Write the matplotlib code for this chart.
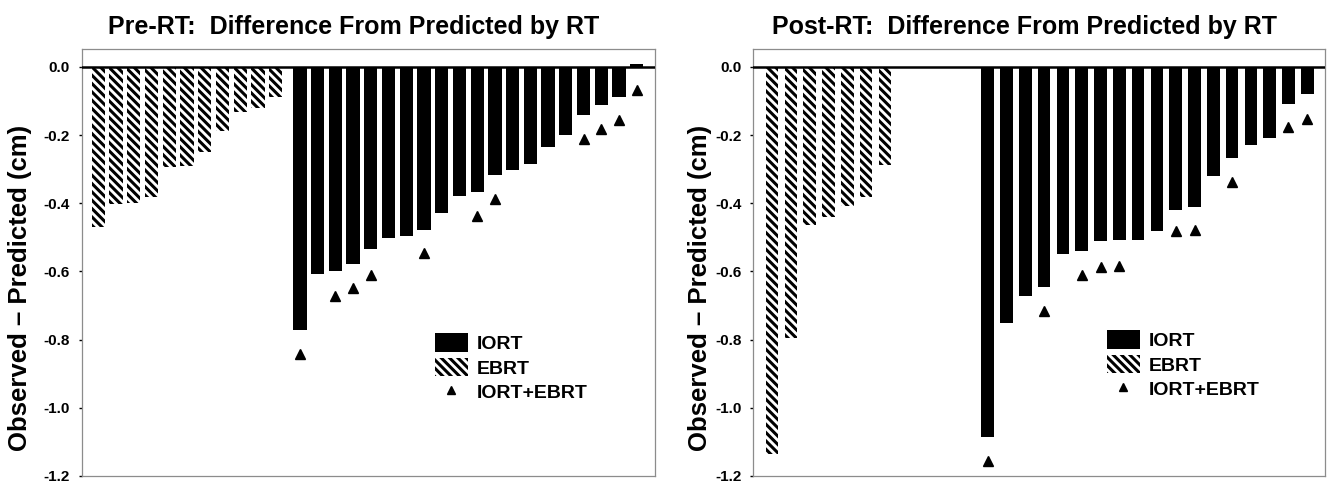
import numpy as np
import matplotlib
matplotlib.use('Agg')
import matplotlib.pyplot as plt
from matplotlib.patches import Patch
from matplotlib.lines import Line2D

nan = np.nan

# Pre-RT: observed - predicted (cm), sorted within each group
pre_ebrt = [-0.471, -0.401, -0.398, -0.382, -0.295, -0.290, -0.250, -0.187, -0.132, -0.120, -0.087]
pre_iort = [-0.773, -0.607, -0.600, -0.579, -0.535, -0.502, -0.495, -0.478, -0.430, -0.380,
            -0.368, -0.318, -0.303, -0.284, -0.234, -0.201, -0.142, -0.112, -0.087, 0.007]
pre_combo = [-0.842, nan, -0.673, -0.649, -0.610, nan, nan, -0.545, nan, nan,
             -0.437, -0.388, nan, nan, nan, nan, -0.211, -0.181, -0.156, -0.069]

# Post-RT
post_ebrt = [-1.136, -0.794, -0.464, -0.440, -0.408, -0.383, -0.287]
post_iort = [-1.085, -0.751, -0.671, -0.647, -0.550, -0.541, -0.512, -0.509, -0.508,
             -0.480, -0.419, -0.411, -0.321, -0.268, -0.228, -0.209, -0.109, -0.080]
post_combo = [-1.156, nan, nan, -0.717, nan, -0.611, -0.586, -0.583, nan,
              nan, -0.482, -0.478, nan, -0.338, nan, nan, -0.177, -0.154]

titles = ['Pre-RT:  Difference From Predicted by RT', 'Post-RT:  Difference From Predicted by RT']
ylabel = 'Observed \u2013 Predicted (cm)'
legend_labels = ['IORT', 'EBRT', 'IORT+EBRT']
yticks = [0.0, -0.2, -0.4, -0.6, -0.8, -1.0, -1.2]

plt.rcParams['font.family'] = 'Liberation Sans'
plt.rcParams['font.weight'] = 'bold'
plt.rcParams['hatch.linewidth'] = 2.2

HATCH = '\\\\\\\\'   # 4 backslashes -> dense diagonal stripes


def draw_panel(ax, ebrt, iort, combo, gap, width, xlim, title, leg_xy, lab_x):
    x_e = np.arange(len(ebrt))
    x_i = len(ebrt) - 1 + gap + np.arange(len(iort))

    ax.bar(x_e, ebrt, width=width, color='white', edgecolor='black', linewidth=0, hatch=HATCH)
    ax.bar(x_i, iort, width=width, color='black', linewidth=0)
    ax.plot(x_i, combo, linestyle='none', marker='^', markersize=6.5, color='black')
    ax.axhline(0, color='black', linewidth=1.8, zorder=3)

    ax.set_xlim(*xlim)
    ax.set_ylim(-1.2, 0.053)
    ax.set_xticks([])
    ax.set_yticks(yticks)
    ax.set_yticklabels(['%.1f' % v for v in yticks])
    ax.tick_params(axis='y', direction='out', length=2.5, width=1, pad=6, labelsize=11)
    for s in ax.spines.values():
        s.set_color('#8c8c8c')
        s.set_linewidth(0.9)

    ax.set_title(title, fontsize=18, fontweight='bold', x=0.475, pad=11)
    ax.set_ylabel(ylabel, fontsize=18.5, fontweight='bold')
    ax.yaxis.set_label_coords(lab_x, 0.44)

    handles = [Patch(facecolor='black', linewidth=0),
               Patch(facecolor='white', edgecolor='black', linewidth=0, hatch=HATCH),
               Line2D([], [], linestyle='none', marker='^', markersize=6, color='black')]
    ax.legend(handles, legend_labels, loc='upper left', bbox_to_anchor=leg_xy, frameon=False,
              borderaxespad=0, borderpad=0, handlelength=1.7, handleheight=1.1,
              handletextpad=0.45, labelspacing=0.25, prop={'weight': 'bold', 'size': 14})


fig = plt.figure(figsize=(13.28, 4.82), dpi=100)
ax1 = fig.add_axes([0.0615, 0.01245, 0.4317, 0.8863])
ax2 = fig.add_axes([0.5672, 0.01245, 0.4305, 0.8863])

draw_panel(ax1, pre_ebrt, pre_iort, pre_combo, gap=1.37, width=0.75, xlim=(-0.94, 31.4),
           title=titles[0], leg_xy=(0.616, 0.335), lab_x=-0.087)
draw_panel(ax2, post_ebrt, post_iort, post_combo, gap=5.48, width=0.67, xlim=(-1.0, 29.42),
           title=titles[1], leg_xy=(0.618, 0.342), lab_x=-0.072)

fig.savefig('out.png', dpi=100)
